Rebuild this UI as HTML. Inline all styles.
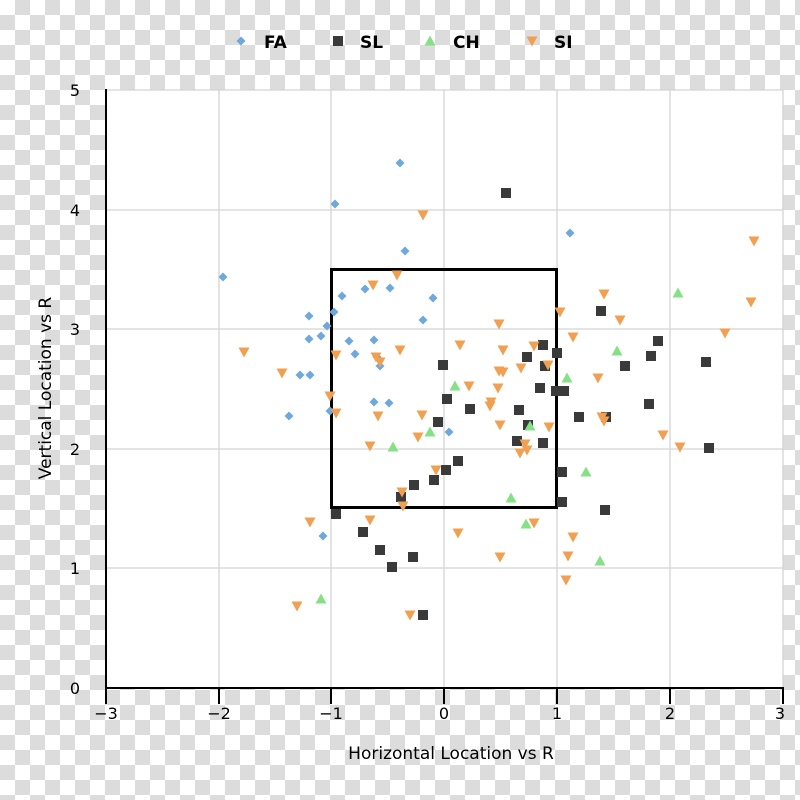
<!DOCTYPE html><html><head><style>
body{margin:0;}
.bg{width:800px;height:800px;background:conic-gradient(#dcdcdc 25%,#fff 0 50%,#dcdcdc 0 75%,#fff 0);background-size:30px 30px;background-position:0 0;}
svg{position:absolute;left:0;top:0}
text{font-family:"DejaVu Sans","Liberation Sans",sans-serif;}
</style></head><body><div class="bg"></div>
<svg width="800" height="800" xmlns="http://www.w3.org/2000/svg">
<rect x="106" y="90" width="677" height="598" fill="#fff"/>
<g stroke="#d4d4d4" stroke-width="1.3">
<line x1="219" y1="90" x2="219" y2="688"/><line x1="331" y1="90" x2="331" y2="688"/><line x1="444" y1="90" x2="444" y2="688"/><line x1="557" y1="90" x2="557" y2="688"/><line x1="670" y1="90" x2="670" y2="688"/><line x1="783" y1="90" x2="783" y2="688"/>
<line x1="106" y1="90" x2="783" y2="90"/><line x1="106" y1="210" x2="783" y2="210"/><line x1="106" y1="329" x2="783" y2="329"/><line x1="106" y1="449" x2="783" y2="449"/><line x1="106" y1="568" x2="783" y2="568"/>
</g>
<g stroke="#000" stroke-width="2">
<line x1="106" y1="89" x2="106" y2="704"/><line x1="105" y1="688" x2="784" y2="688"/>
<line x1="219" y1="688" x2="219" y2="704"/><line x1="331" y1="688" x2="331" y2="704"/><line x1="444" y1="688" x2="444" y2="704"/><line x1="557" y1="688" x2="557" y2="704"/><line x1="670" y1="688" x2="670" y2="704"/><line x1="783" y1="688" x2="783" y2="704"/>
</g>
<g font-size="16" fill="#000" text-anchor="middle">
<text x="106" y="719">−3</text><text x="219" y="719">−2</text><text x="331" y="719">−1</text><text x="444" y="719">0</text><text x="557" y="719">1</text><text x="670" y="719">2</text><text x="780" y="719">3</text>
</g>
<g font-size="16" fill="#000" text-anchor="end">
<text x="80" y="96">5</text><text x="80" y="216">4</text><text x="80" y="335">3</text><text x="80" y="455">2</text><text x="80" y="574">1</text><text x="80" y="694">0</text>
</g>
<text x="451" y="759" font-size="17" text-anchor="middle">Horizontal Location vs R</text>
<text x="0" y="0" font-size="17" text-anchor="middle" transform="translate(51,388) rotate(-90)">Vertical Location vs R</text>
<rect x="331.5" y="269.5" width="225" height="238" fill="none" stroke="#000" stroke-width="3"/>
<defs>
<path id="d" d="M0,-4.5L4.5,0L0,4.5L-4.5,0Z" fill="#6fa8dc"/>
<rect id="s" x="-5" y="-5" width="10" height="10" fill="#3a3a3a"/>
<path id="t" d="M0,-5.5L5.5,4.5L-5.5,4.5Z" fill="#86e086"/>
<path id="v" d="M0,5.5L5.5,-4.5L-5.5,-4.5Z" fill="#f0a050"/>
</defs>
<g id="legend">
<use href="#d" x="241" y="41"/><text x="264" y="48" font-size="17" font-weight="bold">FA</text>
<use href="#s" x="338" y="41"/><text x="360" y="48" font-size="17" font-weight="bold">SL</text>
<use href="#t" x="430" y="41"/><text x="453" y="48" font-size="17" font-weight="bold">CH</text>
<use href="#v" x="532" y="41"/><text x="554" y="48" font-size="17" font-weight="bold">SI</text>
</g>
<g>
<use href="#d" x="223" y="277"/><use href="#d" x="400" y="163"/><use href="#d" x="335" y="204"/><use href="#d" x="405" y="251"/><use href="#d" x="570" y="233"/><use href="#d" x="342" y="296"/><use href="#d" x="365" y="289"/><use href="#d" x="390" y="288"/><use href="#d" x="433" y="298"/><use href="#d" x="423" y="320"/><use href="#d" x="309" y="316"/><use href="#d" x="327" y="326"/><use href="#d" x="321" y="336"/><use href="#d" x="309" y="339"/><use href="#d" x="349" y="341"/><use href="#d" x="355" y="354"/><use href="#d" x="374" y="340"/><use href="#d" x="380" y="366"/><use href="#d" x="377" y="357"/><use href="#d" x="300" y="375"/><use href="#d" x="310" y="375"/><use href="#d" x="289" y="416"/><use href="#d" x="374" y="402"/><use href="#d" x="389" y="403"/><use href="#d" x="330" y="411"/><use href="#d" x="449" y="432"/><use href="#d" x="323" y="536"/><use href="#d" x="334" y="312"/>
</g>
<g>
<use href="#s" x="506" y="193"/><use href="#s" x="601" y="311"/><use href="#s" x="658" y="341"/><use href="#s" x="543" y="345"/><use href="#s" x="557" y="353"/><use href="#s" x="527" y="357"/><use href="#s" x="545" y="366"/><use href="#s" x="651" y="356"/><use href="#s" x="625" y="366"/><use href="#s" x="706" y="362"/><use href="#s" x="443" y="365"/><use href="#s" x="540" y="388"/><use href="#s" x="556" y="391"/><use href="#s" x="564" y="391"/><use href="#s" x="649" y="404"/><use href="#s" x="470" y="409"/><use href="#s" x="447" y="399"/><use href="#s" x="519" y="410"/><use href="#s" x="579" y="417"/><use href="#s" x="606" y="417"/><use href="#s" x="438" y="422"/><use href="#s" x="528" y="425"/><use href="#s" x="517" y="441"/><use href="#s" x="709" y="448"/><use href="#s" x="543" y="443"/><use href="#s" x="458" y="461"/><use href="#s" x="446" y="470"/><use href="#s" x="562" y="472"/><use href="#s" x="434" y="480"/><use href="#s" x="414" y="485"/><use href="#s" x="401" y="497"/><use href="#s" x="562" y="502"/><use href="#s" x="605" y="510"/><use href="#s" x="336" y="514"/><use href="#s" x="363" y="532"/><use href="#s" x="380" y="550"/><use href="#s" x="413" y="557"/><use href="#s" x="392" y="567"/><use href="#s" x="423" y="615"/>
</g>
<g>
<use href="#t" x="678" y="293"/><use href="#t" x="617" y="351"/><use href="#t" x="455" y="386"/><use href="#t" x="567" y="378"/><use href="#t" x="530" y="426"/><use href="#t" x="430" y="432"/><use href="#t" x="393" y="447"/><use href="#t" x="586" y="472"/><use href="#t" x="511" y="498"/><use href="#t" x="526" y="524"/><use href="#t" x="600" y="561"/><use href="#t" x="321" y="599"/>
</g>
<g>
<use href="#v" x="754" y="241"/><use href="#v" x="423" y="215"/><use href="#v" x="397" y="275"/><use href="#v" x="373" y="285"/><use href="#v" x="604" y="294"/><use href="#v" x="751" y="302"/><use href="#v" x="620" y="320"/><use href="#v" x="573" y="337"/><use href="#v" x="560" y="312"/><use href="#v" x="499" y="324"/><use href="#v" x="460" y="345"/><use href="#v" x="244" y="352"/><use href="#v" x="400" y="350"/><use href="#v" x="336" y="355"/><use href="#v" x="376" y="357"/><use href="#v" x="380" y="362"/><use href="#v" x="503" y="350"/><use href="#v" x="534" y="346"/><use href="#v" x="548" y="365"/><use href="#v" x="521" y="368"/><use href="#v" x="499" y="371"/><use href="#v" x="503" y="372"/><use href="#v" x="725" y="333"/><use href="#v" x="282" y="373"/><use href="#v" x="598" y="378"/><use href="#v" x="469" y="386"/><use href="#v" x="498" y="388"/><use href="#v" x="491" y="402"/><use href="#v" x="330" y="396"/><use href="#v" x="336" y="413"/><use href="#v" x="378" y="416"/><use href="#v" x="422" y="415"/><use href="#v" x="602" y="417"/><use href="#v" x="604" y="421"/><use href="#v" x="490" y="406"/><use href="#v" x="500" y="425"/><use href="#v" x="549" y="427"/><use href="#v" x="663" y="435"/><use href="#v" x="680" y="447"/><use href="#v" x="370" y="446"/><use href="#v" x="418" y="437"/><use href="#v" x="525" y="444"/><use href="#v" x="520" y="453"/><use href="#v" x="527" y="450"/><use href="#v" x="436" y="470"/><use href="#v" x="402" y="492"/><use href="#v" x="403" y="506"/><use href="#v" x="370" y="520"/><use href="#v" x="534" y="523"/><use href="#v" x="310" y="522"/><use href="#v" x="573" y="537"/><use href="#v" x="458" y="533"/><use href="#v" x="500" y="557"/><use href="#v" x="568" y="556"/><use href="#v" x="566" y="580"/><use href="#v" x="297" y="606"/><use href="#v" x="410" y="615"/>
</g>
</svg></body></html>
